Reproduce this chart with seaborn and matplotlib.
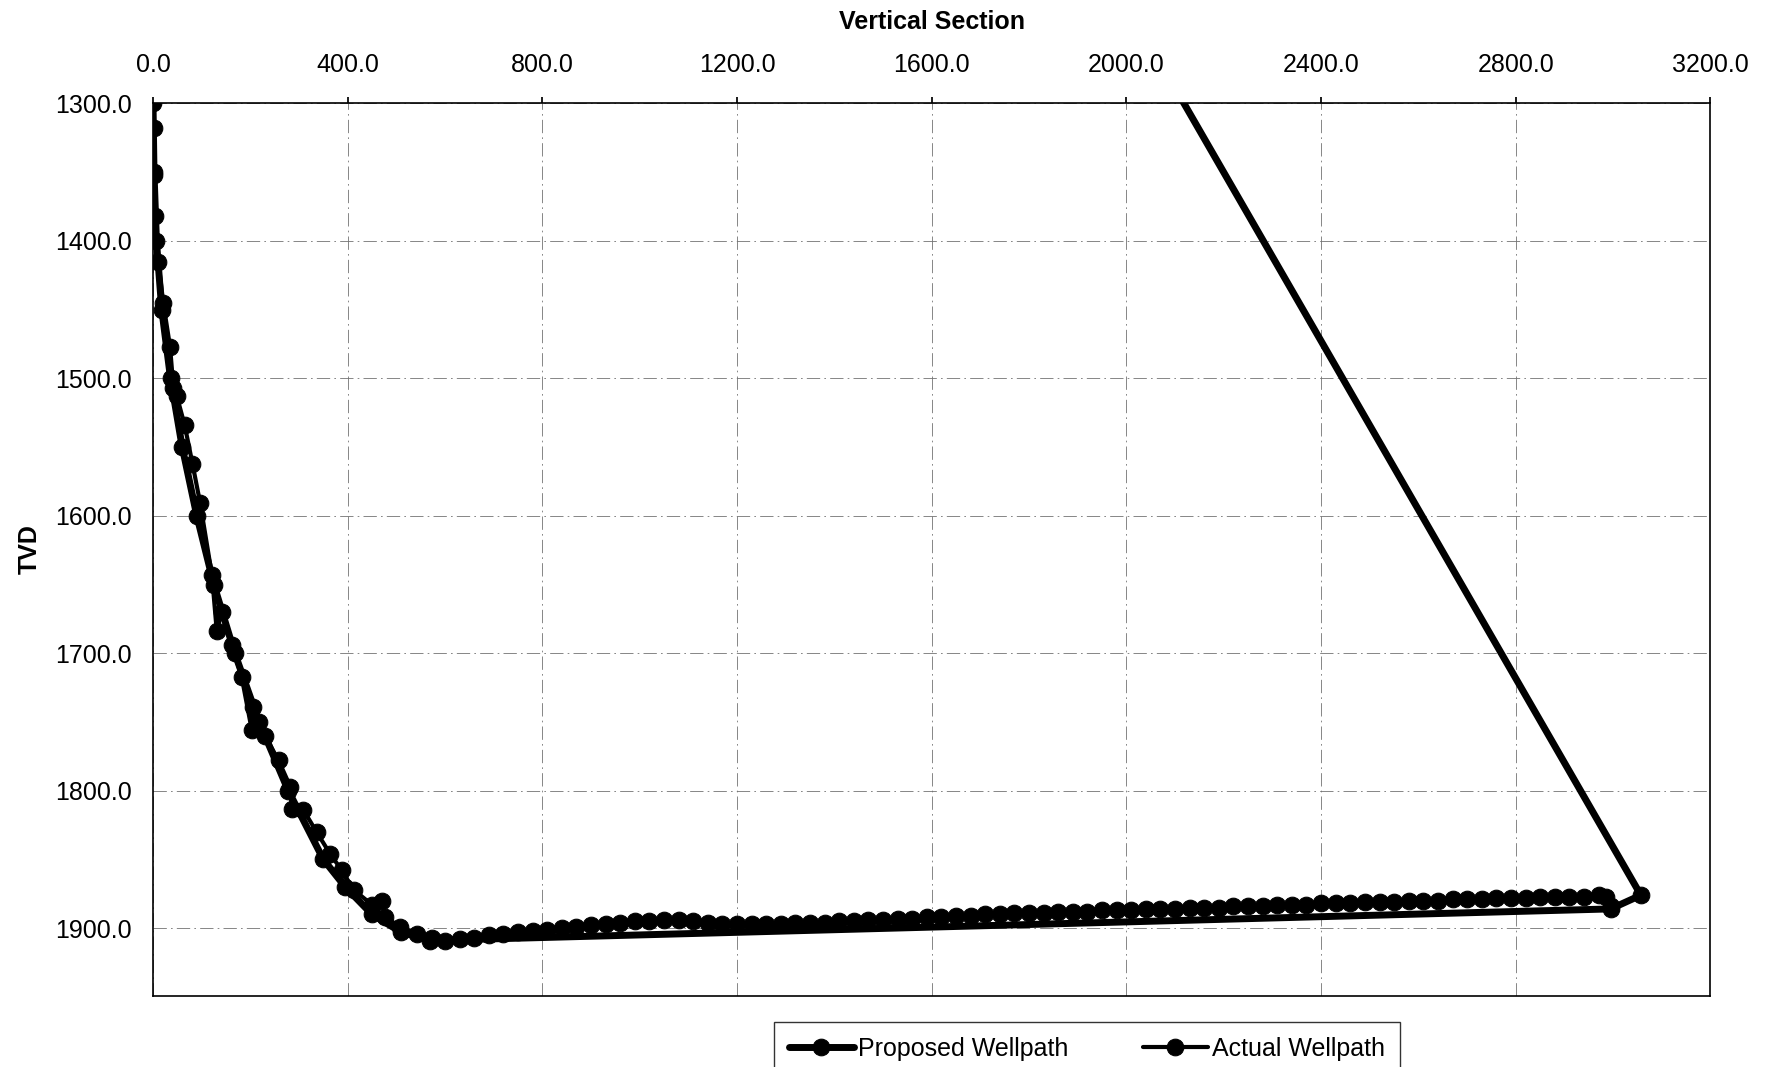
import matplotlib
matplotlib.use("Agg")
import matplotlib.pyplot as plt
import seaborn as sns
import pandas as pd

# proposed wellpath (vertical section, TVD)
prop_vs = [0, 0, 2, 7, 18, 36, 60, 90, 125, 168, 218, 278, 350, 395, 450, 510, 570,
           2995, 3057, 0]
prop_tvd = [0, 1300, 1350, 1400, 1450, 1500, 1550, 1600, 1650, 1700, 1750, 1800, 1850,
            1870, 1890, 1903, 1909, 1886, 1876, 0]

# actual wellpath survey stations
act_vs = [0, 1, 1, 4, 11, 21, 35, 42, 49, 65, 81, 97, 121, 131, 141, 162, 182, 203, 206,
          230, 258, 282, 285, 309, 336, 364, 388, 412, 450, 470, 477, 508, 542, 573,
          600, 630, 660, 690, 720, 750, 780, 810, 840, 870, 900, 930, 960, 990, 1020,
          1050, 1080, 1110, 1140, 1170, 1200, 1230, 1260, 1290, 1320, 1350, 1380, 1410,
          1440, 1470, 1500, 1530, 1560, 1590, 1620, 1650, 1680, 1710, 1740, 1770, 1800,
          1830, 1860, 1890, 1920, 1950, 1980, 2010, 2040, 2070, 2100, 2130, 2160, 2190,
          2220, 2250, 2280, 2310, 2340, 2370, 2400, 2430, 2460, 2490, 2520, 2550, 2580,
          2610, 2640, 2670, 2700, 2730, 2760, 2790, 2820, 2850, 2880, 2910, 2940, 2970,
          2985, 2995]
act_tvd = [0, 1318, 1352, 1382, 1415, 1445, 1477, 1507, 1513, 1534, 1562, 1591, 1643,
           1684, 1670, 1694, 1717, 1756, 1739, 1760, 1778, 1797, 1813, 1814, 1830, 1846,
           1858, 1872, 1883, 1880, 1892, 1899, 1904, 1907,
           1909, 1908, 1907, 1905, 1904, 1903, 1902, 1901, 1900, 1899, 1898, 1897, 1896,
           1895, 1895, 1894, 1894, 1895, 1896, 1897, 1897, 1897, 1897, 1897, 1896, 1896,
           1896, 1895, 1895, 1894, 1894, 1893, 1893, 1892, 1892, 1891, 1891, 1890, 1890,
           1889, 1889, 1889, 1888, 1888, 1888, 1887, 1887, 1887, 1886, 1886, 1886, 1885,
           1885, 1885, 1884, 1884, 1884, 1883, 1883, 1883, 1882, 1882, 1882, 1881, 1881,
           1881, 1880, 1880, 1880, 1879, 1879, 1879, 1878, 1878, 1878, 1877, 1877, 1877,
           1877, 1876, 1877, 1884]

x_ticks = [0, 400, 800, 1200, 1600, 2000, 2400, 2800, 3200]
y_ticks = [1300, 1400, 1500, 1600, 1700, 1800, 1900]

sns.set_theme(style="white")
plt.rcParams['font.family'] = ['Liberation Sans', 'DejaVu Sans']
plt.rcParams['text.color'] = 'black'
plt.rcParams['axes.labelcolor'] = 'black'
plt.rcParams['xtick.color'] = 'black'
plt.rcParams['ytick.color'] = 'black'

prop = pd.DataFrame({'vs': prop_vs, 'tvd': prop_tvd})
act = pd.DataFrame({'vs': act_vs, 'tvd': act_tvd})

fig = plt.figure(figsize=(17.67, 10.67), dpi=100)
ax = fig.add_axes([0.0866, 0.067, 0.968 - 0.0866, 0.903 - 0.067])

sns.lineplot(data=prop, x='vs', y='tvd', sort=False, estimator=None, ax=ax,
             color='black', linewidth=5.0, marker='o', markersize=12,
             markeredgecolor='black', label='Proposed Wellpath')
sns.lineplot(data=act, x='vs', y='tvd', sort=False, estimator=None, ax=ax,
             color='black', linewidth=3.0, marker='o', markersize=12,
             markeredgecolor='black', label='Actual Wellpath')

ax.set_xlim(0, 3200)
ax.set_ylim(1949, 1300)
ax.set_xticks(x_ticks)
ax.set_xticklabels([f"{v:.1f}" for v in x_ticks])
ax.set_yticks(y_ticks)
ax.set_yticklabels([f"{v:.1f}" for v in y_ticks])
ax.xaxis.tick_top()
ax.xaxis.set_label_position('top')
ax.tick_params(axis='both', labelsize=18, length=4, color='black', direction='out')
ax.tick_params(axis='x', pad=15)
ax.tick_params(axis='y', pad=11)
ax.set_xlabel('Vertical Section', fontsize=18, fontweight='bold', labelpad=17)
ax.set_ylabel('TVD', fontsize=18, fontweight='bold', labelpad=10)

ax.grid(True, color='0.45', linewidth=0.6, linestyle=(0, (16, 5, 2, 5)))
for s in ax.spines.values():
    s.set_visible(True)
    s.set_color('black')
    s.set_linewidth(1.2)

ax.legend_.remove()
handles, labels = ax.get_legend_handles_labels()
fig.legend(handles, labels, loc='center', bbox_to_anchor=(0.615, 0.017), ncol=2,
           fontsize=18, frameon=True, fancybox=False, edgecolor='black',
           handlelength=2.6, handletextpad=0.15, columnspacing=3.0, borderpad=0.6)

fig.savefig('out.png', dpi=100)
